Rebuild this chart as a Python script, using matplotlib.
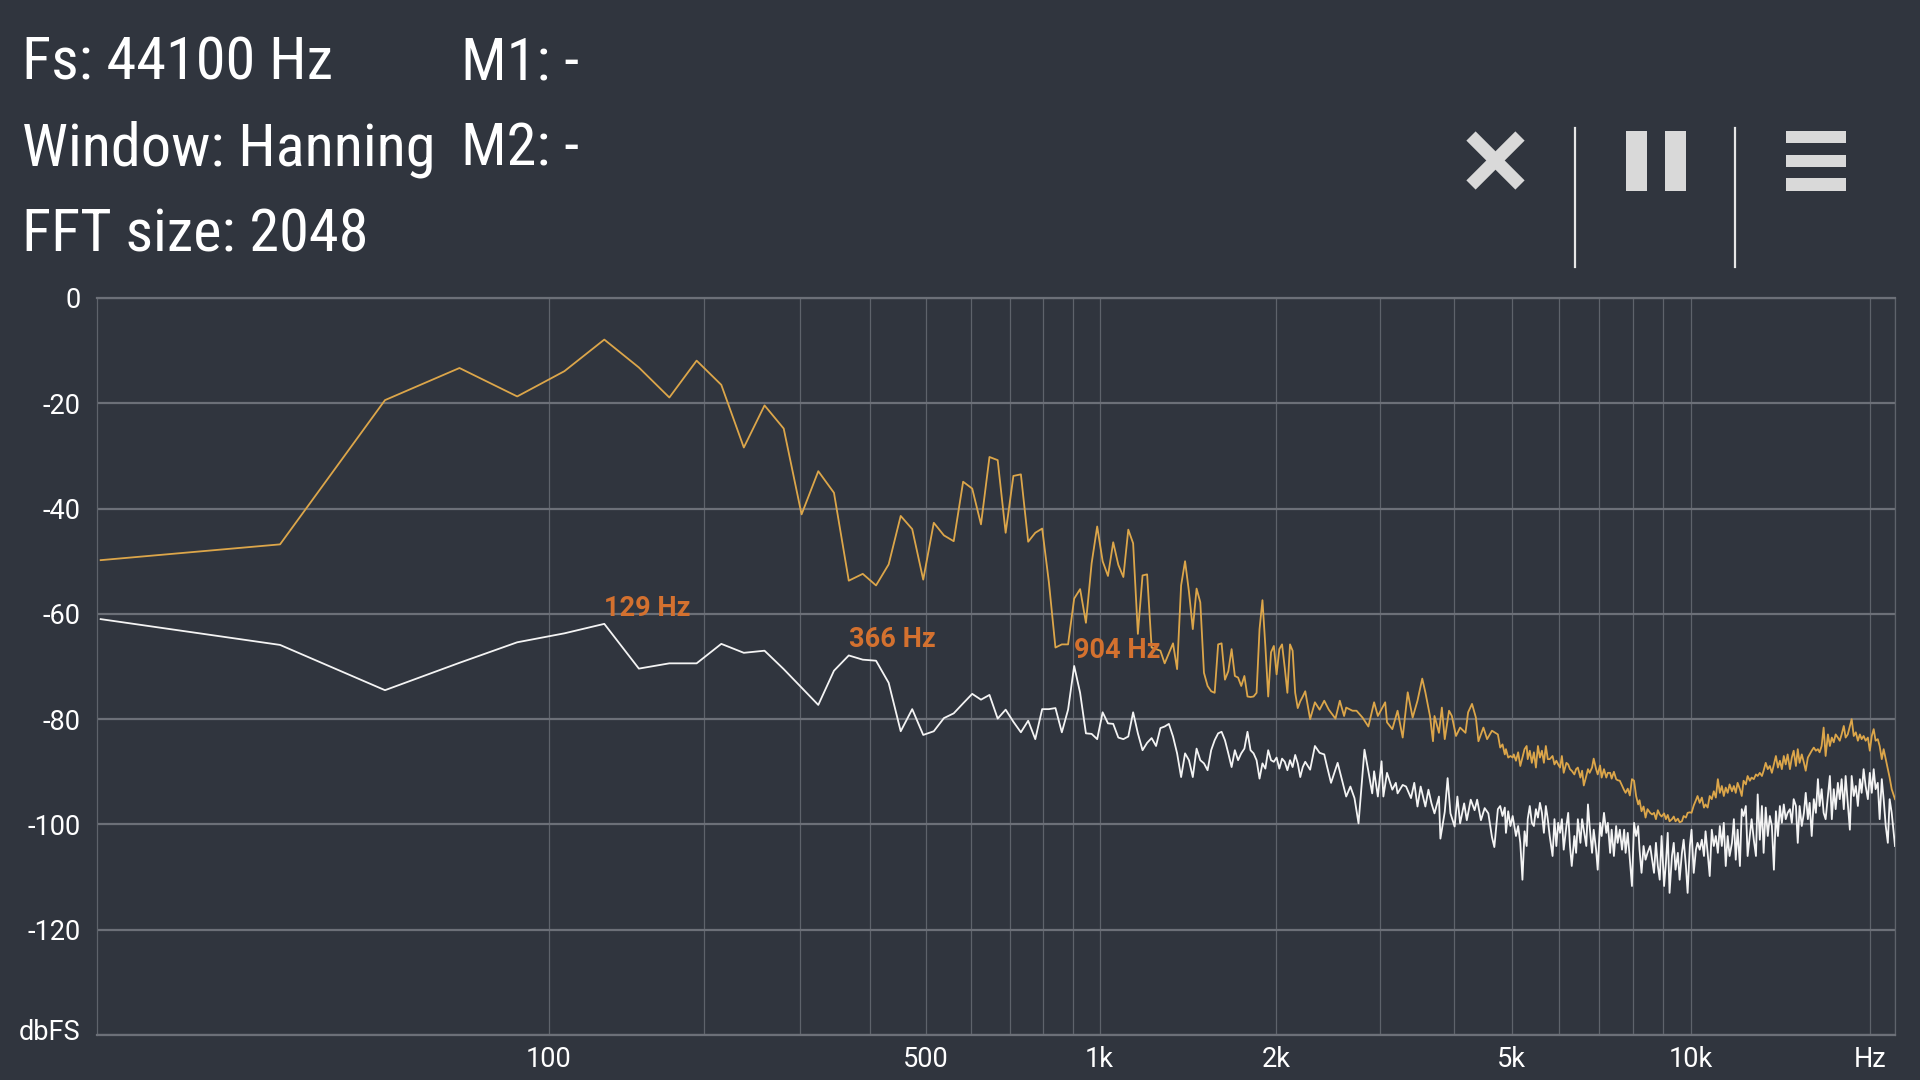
import numpy as np
import matplotlib
matplotlib.use("Agg")
import matplotlib.pyplot as plt
from matplotlib import font_manager
from matplotlib.lines import Line2D
from matplotlib.patches import Rectangle
from matplotlib.transforms import ScaledTranslation

FS = 44100
NFFT = 2048
DF = FS / NFFT  # bin width, Hz

header_left = ["Fs: 44100 Hz", "Window: Hanning", "FFT size: 2048"]
header_right = ["M1: -", "M2: -"]

y_ticks = [0, -20, -40, -60, -80, -100, -120, -140]
y_labels = ["0", "-20", "-40", "-60", "-80", "-100", "-120", "dbFS"]
x_ticks = [100, 500, 1000, 2000, 5000, 10000, 20000]
x_labels = ["100", "500", "1k", "2k", "5k", "10k", "Hz"]
x_grid = [200, 300, 400, 600, 700, 800, 900,
          3000, 4000, 6000, 7000, 8000, 9000, 22050]

# peaks that carry a marker label (bin index on the white trace)
marker_bins = [6, 17, 42]

# bins 0..104, one value per bin (dBFS)
low_db_orange = [
    -49.8, -46.8, -19.4, -13.3, -18.7, -13.9, -7.9, -13.2, -18.9, -11.9,
    -16.5, -28.4, -20.4, -24.8, -41.1, -32.9, -37.0, -53.7, -52.4, -54.6,
    -50.6, -41.4, -43.9, -53.5, -42.7, -45.1, -46.2, -34.9, -36.2, -43.0,
    -30.2, -30.8, -44.6, -33.8, -33.5, -46.3, -44.6, -43.8, -54.0, -66.4,
    -65.8, -65.8, -57.1, -55.3, -61.7, -50.4, -43.4, -50.0, -52.8, -46.4,
    -50.7, -53.0, -44.0, -46.6, -63.8, -52.7, -52.5, -66.4, -66.7, -67.0,
    -69.4, -67.5, -65.6, -70.5, -54.6, -50.0, -55.8, -62.9, -55.2, -57.8,
    -71.2, -73.7, -74.7, -75.0, -65.8, -65.6, -72.5, -70.9, -66.7, -71.8,
    -72.1, -73.7, -71.8, -75.7, -75.8, -75.7, -75.0, -62.9, -57.4, -66.1,
    -75.7, -67.3, -66.1, -71.5, -66.7, -65.8, -70.2, -75.0, -65.8, -67.0,
    -75.0, -77.9, -76.6, -75.7, -74.7,
]
low_db_white = [
    -61.0, -65.9, -74.5, -69.3, -65.4, -63.7, -61.9, -70.4, -69.4, -69.4,
    -65.7, -67.4, -67.0, -70.5, -74.0, -77.3, -70.8, -67.9, -68.7, -68.9,
    -73.1, -82.3, -78.1, -83.0, -82.3, -79.8, -78.9, -77.0, -75.2, -76.3,
    -75.4, -79.9, -78.2, -80.5, -82.5, -80.3, -83.8, -78.1, -78.1, -77.9,
    -82.5, -78.2, -69.9, -75.0, -82.7, -82.8, -83.8, -78.7, -80.8, -80.9,
    -83.5, -83.8, -83.3, -78.7, -82.7, -85.9, -84.5, -83.6, -85.1, -81.7,
    -81.4, -80.9, -83.3, -86.5, -91.0, -86.5, -87.8, -91.0, -85.6, -87.8,
    -88.4, -89.7, -85.9, -84.0, -82.7, -82.4, -84.0, -86.5, -89.1, -85.9,
    -87.8, -86.5, -85.6, -82.4, -85.9, -86.5, -87.8, -91.3, -88.4, -89.4,
    -85.9, -87.8, -88.1, -87.3, -89.4, -87.5, -88.1, -89.7, -87.8, -89.1,
    -86.8, -88.4, -91.0, -89.1, -88.1,
]

# 2k .. 4.6k, read vertex by vertex
mid_bins_orange = [106, 108, 110, 112, 114, 117, 119, 121, 122, 125,
                   127, 130, 133, 136, 138, 142, 143, 146, 149, 152,
                   155, 158, 161, 164, 166, 169, 171, 172, 175, 177,
                   179, 182, 184, 187, 190, 194, 196, 199, 202, 204,
                   208, 211, 215]
mid_db_orange = [-80.0, -76.8, -78.2, -76.5, -78.2, -79.9, -76.5, -79.4, -77.8, -78.4,
                 -78.4, -79.7, -81.4, -76.8, -79.4, -76.8, -80.6, -81.9, -78.4, -83.5,
                 -74.9, -79.7, -76.5, -72.3, -74.9, -79.4, -84.2, -79.4, -82.6, -77.8,
                 -83.8, -78.4, -79.4, -83.2, -81.6, -82.6, -78.7, -77.1, -79.7, -84.2,
                 -81.6, -83.8, -82.2]
mid_bins_white = [106, 108, 110, 112, 113, 115, 118, 120, 122, 124,
                  126, 128, 131, 133, 135, 136, 138, 140, 141, 143,
                  146, 148, 149, 152, 154, 157, 159, 161, 163, 166,
                  168, 170, 172, 175, 176, 179, 181, 183, 186, 188,
                  190, 193, 195, 198, 201, 203, 206, 209, 212, 215,
                  217]
mid_db_white = [-89.6, -85.1, -86.4, -86.7, -88.6, -92.1, -88.3, -91.5, -94.7, -92.8,
                -95.0, -99.8, -85.8, -89.9, -94.1, -89.9, -94.7, -88.0, -94.7, -90.2,
                -93.4, -92.1, -94.1, -92.5, -92.8, -95.0, -92.1, -96.6, -92.8, -96.6,
                -93.4, -96.0, -97.9, -94.7, -102.7, -97.6, -91.2, -97.9, -100.4, -94.7,
                -99.8, -96.0, -99.2, -95.3, -97.3, -95.3, -99.2, -96.9, -97.9, -102.4,
                -104.3]

# 4.7k .. Nyquist, sampled along the trace
high_bins = [
    220, 222, 224, 226, 227, 229, 231, 233, 234, 236,
    238, 240, 242, 244, 246, 247, 249, 251, 253, 255,
    257, 259, 261, 263, 265, 267, 269, 272, 274, 276,
    278, 280, 282, 284, 287, 289, 291, 293, 296, 298,
    300, 303, 305, 307, 310, 312, 314, 317, 319, 322,
    324, 327, 329, 332, 335, 337, 340, 342, 345, 348,
    350, 353, 356, 359, 361, 364, 367, 370, 373, 376,
    379, 381, 384, 387, 390, 393, 397, 400, 403, 406,
    409, 412, 415, 419, 422, 425, 428, 432, 435, 438,
    442, 445, 449, 452, 456, 459, 463, 466, 470, 474,
    477, 481, 485, 489, 492, 496, 500, 504, 508, 512,
    516, 520, 524, 528, 532, 536, 540, 545, 549, 553,
    557, 562, 566, 570, 575, 579, 584, 588, 593, 598,
    602, 607, 612, 616, 621, 626, 631, 636, 641, 646,
    651, 656, 661, 666, 671, 676, 682, 687, 692, 698,
    703, 708, 714, 720, 725, 731, 736, 742, 748, 754,
    760, 765, 771, 777, 783, 790, 796, 802, 808, 814,
    821, 827, 833, 840, 846, 853, 860, 866, 873, 880,
    887, 894, 900, 907, 914, 922, 929, 936, 943, 950,
    958, 965, 973, 980, 988, 996, 1003, 1011, 1024,
]
high_db_orange = [
    -82.9, -85.4, -84.8, -86.7, -85.7, -87.3, -87.0, -87.3, -86.7, -87.9,
    -86.3, -88.9, -87.3, -85.7, -85.1, -87.6, -86.0, -88.3, -86.3, -89.2,
    -85.1, -87.3, -86.0, -88.3, -85.1, -87.6, -87.6, -87.0, -88.6, -87.9,
    -88.6, -89.2, -87.0, -90.2, -88.3, -88.6, -89.5, -89.8, -90.5, -89.5,
    -89.2, -91.1, -89.8, -92.6, -90.8, -89.5, -90.2, -89.2, -87.5, -89.5,
    -90.5, -88.8, -91.1, -89.5, -91.1, -90.2, -90.2, -91.3, -90.0, -91.4,
    -91.6, -91.7, -92.6, -93.5, -94.0, -93.2, -94.5, -91.4, -91.7, -94.6,
    -96.2, -95.4, -97.5, -96.6, -98.7, -97.1, -97.8, -98.1, -97.8, -99.0,
    -97.3, -98.1, -98.5, -97.9, -99.0, -98.2, -99.4, -99.0, -98.5, -99.4,
    -98.9, -99.6, -99.4, -98.4, -98.7, -97.8, -97.7, -97.8, -96.4, -95.4,
    -94.6, -95.9, -94.9, -96.8, -96.2, -96.8, -94.6, -95.2, -93.7, -94.9,
    -91.4, -94.0, -92.7, -94.6, -93.0, -94.0, -92.4, -93.7, -92.7, -94.0,
    -92.1, -93.3, -94.6, -91.7, -92.4, -90.8, -91.7, -91.1, -91.4, -90.5,
    -90.8, -90.2, -90.8, -89.8, -88.3, -89.5, -88.9, -90.2, -88.6, -87.0,
    -89.2, -87.9, -89.5, -87.0, -88.6, -86.7, -89.5, -87.3, -86.0, -88.9,
    -85.7, -88.3, -86.7, -88.3, -89.8, -87.3, -86.7, -86.0, -85.4, -86.0,
    -85.7, -86.3, -85.1, -81.6, -87.0, -82.9, -85.1, -83.5, -84.4, -82.9,
    -83.5, -84.1, -82.9, -81.3, -83.5, -82.9, -81.3, -80.0, -83.2, -82.5,
    -84.1, -82.9, -83.8, -83.2, -84.1, -83.5, -86.0, -83.2, -81.9, -84.1,
    -83.8, -85.1, -87.6, -85.7, -87.6, -89.5, -91.1, -93.3, -95.2,
]
high_db_white = [
    -97.1, -96.5, -98.4, -96.8, -101.6, -97.5, -100.3, -98.4, -99.7, -102.2,
    -100.3, -103.5, -110.5, -101.3, -104.1, -99.0, -96.5, -99.7, -100.3, -97.1,
    -98.7, -95.9, -97.8, -101.6, -96.5, -99.0, -102.2, -106.0, -99.0, -104.1,
    -99.7, -101.6, -99.0, -104.8, -100.3, -97.8, -104.1, -107.9, -102.2, -105.4,
    -99.0, -103.5, -99.0, -101.0, -104.1, -96.2, -100.3, -105.4, -101.0, -104.8,
    -108.6, -99.7, -102.2, -97.8, -101.6, -99.7, -105.4, -101.0, -106.0, -100.3,
    -103.5, -101.0, -104.8, -101.0, -105.4, -101.6, -106.7, -111.7, -99.7, -102.2,
    -100.3, -104.8, -109.2, -104.1, -106.7, -105.4, -104.1, -106.7, -109.2, -103.5,
    -107.9, -110.5, -102.2, -111.7, -107.3, -101.6, -113.0, -106.0, -103.5, -108.6,
    -105.4, -110.5, -105.4, -102.9, -107.9, -113.0, -104.1, -101.0, -109.2, -104.8,
    -103.5, -104.8, -102.9, -106.0, -101.3, -105.4, -109.8, -101.0, -104.1, -102.2,
    -105.4, -100.3, -104.1, -99.7, -107.9, -102.2, -106.0, -103.5, -99.0, -106.7,
    -101.0, -107.9, -97.1, -98.4, -96.5, -106.0, -102.2, -99.0, -102.9, -106.0,
    -94.3, -102.9, -96.5, -105.4, -96.8, -102.2, -98.4, -100.3, -108.6, -97.5,
    -102.2, -96.5, -99.7, -96.2, -99.0, -97.8, -97.1, -99.7, -95.2, -96.5,
    -103.5, -96.5, -100.3, -97.8, -94.0, -99.0, -95.9, -102.2, -95.2, -97.8,
    -91.4, -96.5, -93.3, -97.8, -99.0, -94.6, -90.8, -99.0, -93.3, -97.1,
    -92.1, -95.2, -91.4, -97.1, -90.8, -95.9, -101.0, -90.8, -94.6, -92.7,
    -96.5, -91.4, -94.0, -89.5, -92.7, -95.2, -90.2, -94.0, -89.5, -93.3,
    -92.1, -99.0, -91.4, -95.2, -100.3, -103.5, -95.2, -97.8, -104.1,
]

# ---- assemble the traces ----
low_bins = np.arange(len(low_db_orange))
orange_bins = np.concatenate([low_bins, mid_bins_orange, high_bins])
orange_db = np.concatenate([low_db_orange, mid_db_orange, high_db_orange])
white_bins = np.concatenate([low_bins, mid_bins_white, high_bins])
white_db = np.concatenate([low_db_white, mid_db_white, high_db_white])

# ---- styling ----
BG = "#30353e"
HGRID = "#6c7078"
VGRID = "#5e636b"
ORANGE = "#dca64a"
WHITE = "#f4f4f4"
MARK = "#d4712f"
ICON = "#d9d9d9"

names = {f.name for f in font_manager.fontManager.ttflist}
head_font = "Roboto"
head_size = 38.5
for cand in ["Roboto Condensed", "Liberation Sans Narrow"]:
    if cand in names:
        head_font = cand
        head_size = 43.5
        break

plt.rcParams["font.family"] = ["Roboto", "DejaVu Sans"]


def fwd(f):
    return np.log10(np.maximum(np.asarray(f, dtype=float) + DF, 1e-6))


def inv(v):
    return 10 ** np.asarray(v, dtype=float) - DF


fig = plt.figure(figsize=(19.2, 10.8), dpi=100, facecolor=BG)
ax = fig.add_axes([97 / 1920, 45 / 1080, 1798 / 1920, 737 / 1080])
ax.set_facecolor(BG)
ax.set_xscale("function", functions=(fwd, inv))
ax.set_xlim(-0.3, FS / 2)
ax.set_ylim(-140, 0)

ax.set_yticks(y_ticks)
ax.set_yticklabels(y_labels)
ax.set_xticks(x_ticks)
ax.set_xticklabels(x_labels)
ax.set_xticks(x_grid, minor=True)
ax.tick_params(axis="both", which="both", length=0, colors="white", labelsize=19.5)
ax.tick_params(axis="y", pad=12)
ax.tick_params(axis="x", pad=8)

# unit label sits a little above the bottom line
unit_lbl = ax.get_yticklabels()[-1]
unit_lbl.set_transform(unit_lbl.get_transform() + ScaledTranslation(0, 6 / 100, fig.dpi_scale_trans))

ax.grid(axis="x", which="both", color=VGRID, lw=0.9, zorder=0)
ax.grid(axis="y", which="major", color=HGRID, lw=1.6, zorder=0)
ax.set_axisbelow(True)
for side in ["top", "bottom"]:
    ax.spines[side].set_color(HGRID)
    ax.spines[side].set_linewidth(1.6)
for side in ["left", "right"]:
    ax.spines[side].set_color(VGRID)
    ax.spines[side].set_linewidth(0.9)

ax.plot(orange_bins * DF, orange_db, color=ORANGE, lw=1.3, zorder=3)
ax.plot(white_bins * DF, white_db, color=WHITE, lw=1.3, zorder=4)

for b in marker_bins:
    ax.annotate(f"{b * DF:.0f} Hz", xy=(b * DF, low_db_white[b]),
                xytext=(0, 6), textcoords="offset points",
                ha="left", va="baseline", color=MARK,
                fontsize=19.5, fontweight="semibold", zorder=5)

# ---- header text ----
rows_y = [80, 165, 251]
for txt, yy in zip(header_left, rows_y):
    fig.text(22 / 1920, 1 - yy / 1080, txt, color="white", fontsize=head_size,
             family=head_font, va="baseline", ha="left")
for txt, yy in zip(header_right, rows_y):
    fig.text(461 / 1920, 1 - yy / 1080, txt, color="white", fontsize=head_size,
             family=head_font, va="baseline", ha="left")


# ---- toolbar icons (figure pixels, y down) ----
def fx(x):
    return x / 1920


def fy(y):
    return 1 - y / 1080


def box(x0, y0, x1, y1):
    fig.add_artist(Rectangle((fx(x0), fy(y1)), fx(x1) - fx(x0), fy(y0) - fy(y1),
                             transform=fig.transFigure, color=ICON, lw=0))


for (xa, ya, xb, yb) in [(1471, 136, 1520, 185), (1471, 185, 1520, 136)]:
    fig.add_artist(Line2D([fx(xa), fx(xb)], [fy(ya), fy(yb)], transform=fig.transFigure,
                          color=ICON, lw=9.4, solid_capstyle="butt"))
for xs in [1574.5, 1734.5]:
    fig.add_artist(Line2D([fx(xs), fx(xs)], [fy(128), fy(267)], transform=fig.transFigure,
                          color="#e6e6e6", lw=1.6))
box(1626, 131, 1647, 191)
box(1665, 131, 1686, 191)
box(1786, 131, 1846, 143)
box(1786, 155, 1846, 167)
box(1786, 178, 1846, 191)

fig.savefig("out.png", dpi=100, facecolor=BG)
